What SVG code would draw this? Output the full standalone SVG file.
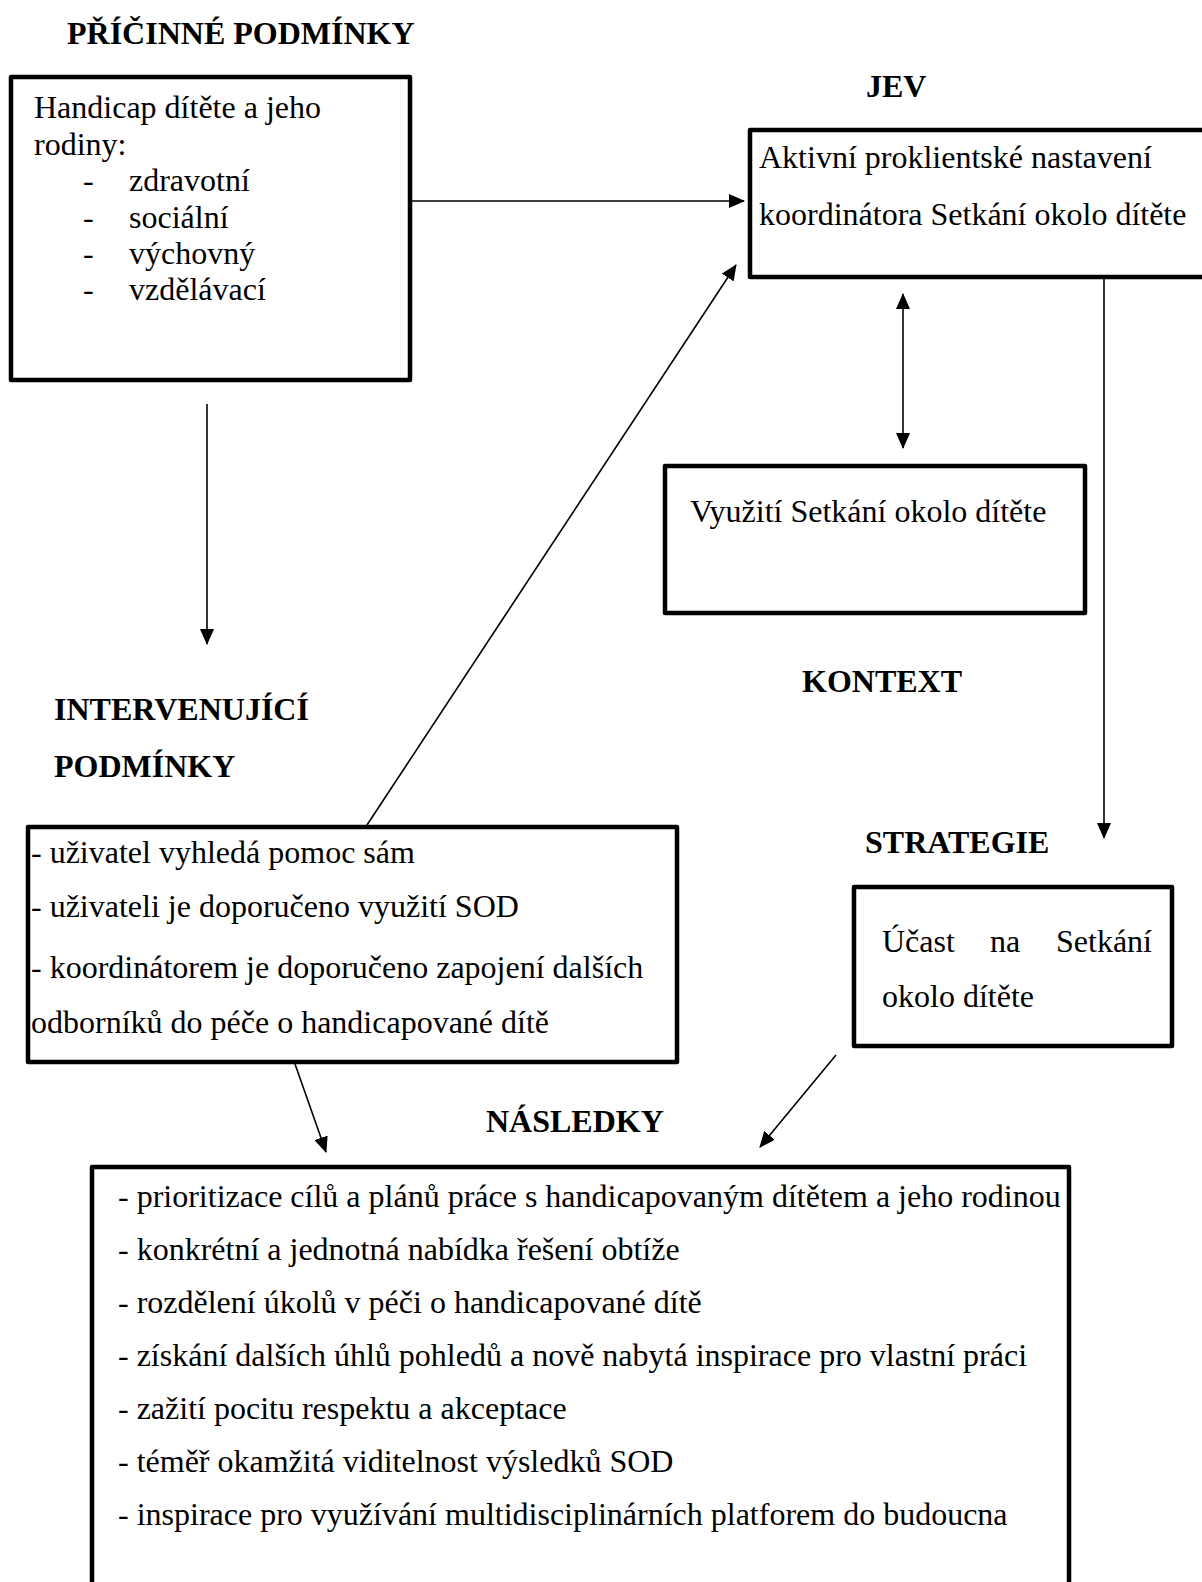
<svg xmlns="http://www.w3.org/2000/svg" width="1202" height="1582" viewBox="0 0 1202 1582">
<style>
text{font-family:"Liberation Serif","Times New Roman",serif;font-size:32px;fill:#000}
.h{font-weight:bold}
.box{fill:none;stroke:#000;stroke-width:4.5;stroke-linejoin:round}
.c{stroke:#000;stroke-width:1.6;fill:none}
</style>
<defs>
<marker id="ah" markerUnits="userSpaceOnUse" markerWidth="16" markerHeight="14" refX="15" refY="7" orient="auto-start-reverse">
<path d="M0,0 L16,7 L0,14 z" fill="#000"/>
</marker>
</defs>
<rect width="1202" height="1582" fill="#fff"/>

<g id="labels">
<text class="h" x="67" y="44">PŘÍČINNÉ PODMÍNKY</text>
<text class="h" x="866" y="97">JEV</text>
<text class="h" x="802" y="692">KONTEXT</text>
<text class="h" x="865" y="853">STRATEGIE</text>
<text class="h" x="54" y="720">INTERVENUJÍCÍ</text>
<text class="h" x="54" y="777">PODMÍNKY</text>
<text class="h" x="486" y="1132">NÁSLEDKY</text>
</g>

<g id="pricinne">
<rect class="box" x="11" y="77" width="399" height="303"/>
<text x="34" y="118">Handicap dítěte a jeho</text>
<text x="34" y="155">rodiny:</text>
<text x="83" y="191">-</text><text x="129" y="191">zdravotní</text>
<text x="83" y="228">-</text><text x="129" y="228">sociální</text>
<text x="83" y="264">-</text><text x="129" y="264">výchovný</text>
<text x="83" y="300">-</text><text x="129" y="300">vzdělávací</text>
</g>

<g id="jev">
<rect class="box" x="750" y="130" width="470" height="147"/>
<text x="759" y="168">Aktivní proklientské nastavení</text>
<text x="759" y="225">koordinátora Setkání okolo dítěte</text>
</g>

<g id="kontext">
<rect class="box" x="665" y="466" width="420" height="147"/>
<text x="690" y="522">Využití Setkání okolo dítěte</text>
</g>

<g id="strategie">
<rect class="box" x="854" y="887" width="318" height="159"/>
<text x="882" y="952">Účast</text>
<text x="990" y="952">na</text>
<text x="1152" y="952" text-anchor="end">Setkání</text>
<text x="882" y="1007">okolo dítěte</text>
</g>

<g id="intervenujici">
<rect class="box" x="28" y="827" width="649" height="235"/>
<text x="31" y="863">- uživatel vyhledá pomoc sám</text>
<text x="31" y="917">- uživateli je doporučeno využití SOD</text>
<text x="31" y="978">- koordinátorem je doporučeno zapojení dalších</text>
<text x="31" y="1033">odborníků do péče o handicapované dítě</text>
</g>

<g id="nasledky">
<rect class="box" x="92" y="1167" width="977" height="440"/>
<text x="118" y="1207">- prioritizace cílů a plánů práce s handicapovaným dítětem a jeho rodinou</text>
<text x="118" y="1260">- konkrétní a jednotná nabídka řešení obtíže</text>
<text x="118" y="1313">- rozdělení úkolů v péči o handicapované dítě</text>
<text x="118" y="1366">- získání dalších úhlů pohledů a nově nabytá inspirace pro vlastní práci</text>
<text x="118" y="1419">- zažití pocitu respektu a akceptace</text>
<text x="118" y="1472">- téměř okamžitá viditelnost výsledků SOD</text>
<text x="118" y="1525">- inspirace pro využívání multidisciplinárních platforem do budoucna</text>
</g>

<g id="connectors">
<line class="c" x1="412" y1="201" x2="744" y2="201" marker-end="url(#ah)"/>
<line class="c" x1="207" y1="404" x2="207" y2="644" marker-end="url(#ah)"/>
<line class="c" x1="367" y1="825" x2="736" y2="265" marker-end="url(#ah)"/>
<line class="c" x1="903" y1="294" x2="903" y2="448" marker-start="url(#ah)" marker-end="url(#ah)"/>
<line class="c" x1="1104" y1="279" x2="1104" y2="838" marker-end="url(#ah)"/>
<line class="c" x1="295" y1="1064" x2="326" y2="1152" marker-end="url(#ah)"/>
<line class="c" x1="836" y1="1055" x2="760" y2="1147" marker-end="url(#ah)"/>
</g>
</svg>
